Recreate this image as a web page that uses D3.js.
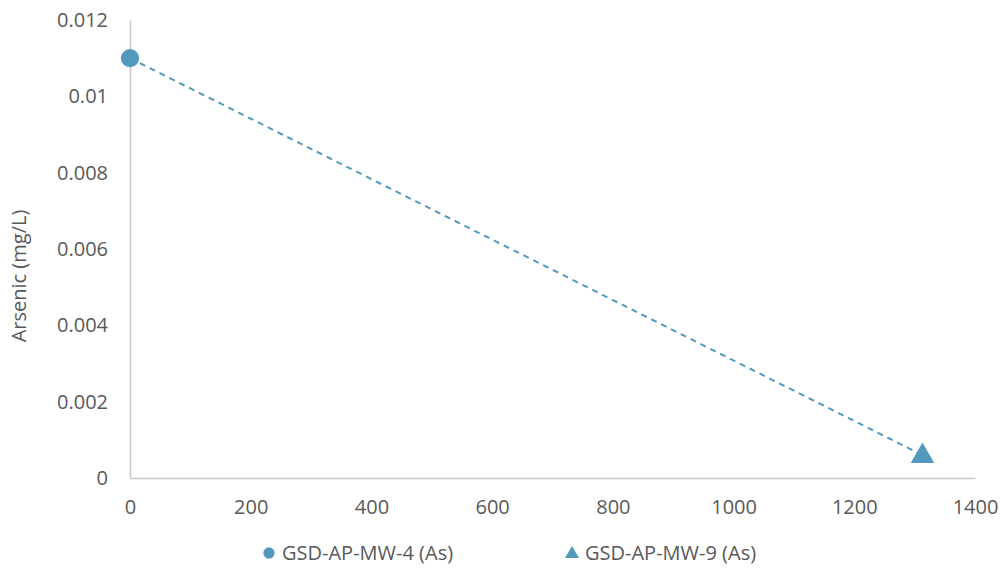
<!DOCTYPE html>
<html><head><meta charset="utf-8">
<script src="https://cdn.jsdelivr.net/npm/d3@7"></script>
<style>body{margin:0;background:#fff;}svg{display:block;font-family:"Open Sans","Noto Sans",sans-serif;}</style>
</head><body><svg id="c" width="1003" height="569"></svg>
<script>
const seriesNames = ["GSD-AP-MW-4 (As)", "GSD-AP-MW-9 (As)"];
const xValues = [0, 1313];
const yValues = [0.011, 0.0006];
const xTicks = [0, 200, 400, 600, 800, 1000, 1200, 1400];
const yTicks = [0, 0.002, 0.004, 0.006, 0.008, 0.01, 0.012];
const yLabel = "Arsenic (mg/L)";

const svg = d3.select("#c");
const color = "#5399be";
const fs = "20px";
const x = d3.scaleLinear().domain([0, 1400]).range([130, 975]);
const y = d3.scaleLinear().domain([0, 0.012]).range([478, 20]);

const xa = svg.append("g").attr("transform", "translate(0,478)")
  .call(d3.axisBottom(x).tickValues(xTicks).tickSize(0).tickPadding(22).tickFormat(d3.format("d")));
const ya = svg.append("g").attr("transform", "translate(130,0)")
  .call(d3.axisLeft(y).tickValues(yTicks).tickSize(0).tickPadding(22).tickFormat(d => d === 0 ? "0" : String(+d.toFixed(3))));
[xa, ya].forEach(a => {
  a.select(".domain").attr("stroke", "#c8c8c8").attr("stroke-width", 1.5);
  a.selectAll("text").attr("fill", "#595959").style("font-size", fs).style("font-family", "'Open Sans','Noto Sans',sans-serif");
});

svg.append("text").attr("transform", "translate(26,276) rotate(-90)")
  .attr("text-anchor", "middle").attr("fill", "#595959").style("font-size", fs).text(yLabel);

const pts = xValues.map((v, i) => [x(v), y(yValues[i])]);
svg.append("path").attr("d", d3.line()(pts)).attr("fill", "none")
  .attr("stroke", color).attr("stroke-width", 2).attr("stroke-dasharray", "6,5");

svg.append("path").attr("d", d3.symbol(d3.symbolCircle, 260)())
  .attr("transform", `translate(${pts[0][0]},${pts[0][1]})`).attr("fill", color);
svg.append("path").attr("d", d3.symbol(d3.symbolTriangle, 240)())
  .attr("transform", `translate(${pts[1][0]},${pts[1][1]+1})`).attr("fill", color);

// legend
const lg = svg.append("g");
lg.append("path").attr("d", d3.symbol(d3.symbolCircle, 100)()).attr("transform", "translate(269,553)").attr("fill", color);
lg.append("text").attr("x", 282).attr("y", 560).attr("fill", "#595959").style("font-size", fs).text(seriesNames[0]);
lg.append("path").attr("d", d3.symbol(d3.symbolTriangle, 85)()).attr("transform", "translate(572,554)").attr("fill", color);
lg.append("text").attr("x", 585).attr("y", 560).attr("fill", "#595959").style("font-size", fs).text(seriesNames[1]);
</script></body></html>
